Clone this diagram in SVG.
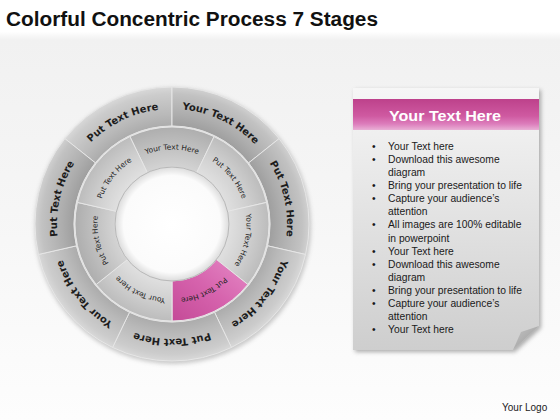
<svg xmlns="http://www.w3.org/2000/svg" width="560" height="420" viewBox="0 0 560 420">
<defs>
<style>
.ot{font-family:"DejaVu Sans",Verdana,sans-serif;font-size:10px;font-weight:bold;fill:#1c1c1c}
.it{font-family:"DejaVu Sans",Verdana,sans-serif;font-size:7.4px;fill:#222}
.seg{stroke:#e6e6e6;stroke-width:1}
.bl{font-family:"Liberation Sans",Arial,sans-serif;font-size:10.3px;fill:#1a1a1a}
</style>
<linearGradient id="gBg" x1="0" y1="0" x2="0" y2="1">
<stop offset="0" stop-color="#ffffff"/><stop offset="0.075" stop-color="#ffffff"/><stop offset="0.095" stop-color="#f1f1f1"/><stop offset="0.5" stop-color="#f6f6f6"/><stop offset="1" stop-color="#fdfdfd"/>
</linearGradient>
<radialGradient id="gO1" gradientUnits="userSpaceOnUse" cx="172" cy="224" r="137">
<stop offset="0.7" stop-color="#9c9c9c"/><stop offset="0.8" stop-color="#adadad"/><stop offset="0.95" stop-color="#c2c2c2"/><stop offset="1" stop-color="#d0d0d0"/>
</radialGradient>
<radialGradient id="gO2" gradientUnits="userSpaceOnUse" cx="172" cy="224" r="137">
<stop offset="0.7" stop-color="#a9a9a9"/><stop offset="0.8" stop-color="#b9b9b9"/><stop offset="0.95" stop-color="#cccccc"/><stop offset="1" stop-color="#d8d8d8"/>
</radialGradient>
<radialGradient id="gI1" gradientUnits="userSpaceOnUse" cx="172" cy="224" r="97">
<stop offset="0.58" stop-color="#d4d4d4"/><stop offset="0.8" stop-color="#c0c0c0"/><stop offset="1" stop-color="#aeaeae"/>
</radialGradient>
<radialGradient id="gI2" gradientUnits="userSpaceOnUse" cx="172" cy="224" r="97">
<stop offset="0.58" stop-color="#e0e0e0"/><stop offset="0.8" stop-color="#cfcfcf"/><stop offset="1" stop-color="#bcbcbc"/>
</radialGradient>
<linearGradient id="gP" x1="0" y1="1" x2="1" y2="0">
<stop offset="0" stop-color="#c44a97"/><stop offset="0.5" stop-color="#d663ad"/><stop offset="1" stop-color="#e58ac6"/>
</linearGradient>
<radialGradient id="gH" cx="0.5" cy="0.5" r="0.5">
<stop offset="0" stop-color="#ffffff"/><stop offset="0.85" stop-color="#fbfbfb"/><stop offset="1" stop-color="#dcdcdc"/>
</radialGradient>
<linearGradient id="gPanel" x1="0" y1="0" x2="0" y2="1">
<stop offset="0" stop-color="#f6f6f6"/><stop offset="1" stop-color="#cecece"/>
</linearGradient>
<linearGradient id="gHd" x1="0" y1="0" x2="0" y2="1">
<stop offset="0" stop-color="#bd418b"/><stop offset="0.55" stop-color="#cf5aa1"/><stop offset="0.8" stop-color="#dc7cbb"/><stop offset="1" stop-color="#e9b0d6"/>
</linearGradient>
<linearGradient id="gF" x1="0" y1="0" x2="1" y2="1">
<stop offset="0" stop-color="#c4c4c4"/><stop offset="1" stop-color="#989898"/>
</linearGradient>
<filter id="blur" x="-20%" y="-20%" width="140%" height="140%"><feGaussianBlur stdDeviation="2"/></filter>
<path id="pA" d="M82.09,152.30 A115,115 0 0 1 172,109"/>
<path id="pB" d="M172,109 A115,115 0 0 1 261.91,152.30"/>
<path id="pC" d="M261.91,152.30 A115,115 0 0 1 284.11,249.59"/>
<path id="pD" d="M284.11,249.59 A115,115 0 0 1 221.90,327.62"/>
<path id="pE" d="M221.90,327.62 A115,115 0 0 1 122.10,327.62"/>
<path id="pF" d="M122.10,327.62 A115,115 0 0 1 59.89,249.59"/>
<path id="pG" d="M59.89,249.59 A115,115 0 0 1 82.09,152.30"/>
<path id="q1" d="M139.67,156.88 A74.5,74.5 0 0 1 204.33,156.88"/>
<path id="q2" d="M204.33,156.88 A74.5,74.5 0 0 1 244.63,207.42"/>
<path id="q3" d="M244.63,207.42 A74.5,74.5 0 0 1 230.24,270.45"/>
<path id="q4" d="M230.24,270.45 A74.5,74.5 0 0 1 172,298.5"/>
<path id="q5" d="M172,298.5 A74.5,74.5 0 0 1 113.76,270.45"/>
<path id="q6" d="M113.76,270.45 A74.5,74.5 0 0 1 99.37,207.42"/>
<path id="q7" d="M99.37,207.42 A74.5,74.5 0 0 1 139.67,156.88"/>
</defs>

<rect width="560" height="420" fill="url(#gBg)"/>
<text x="6" y="26" font-family="Liberation Sans, Arial, sans-serif" font-size="20" font-weight="bold" fill="#111" textLength="372" lengthAdjust="spacingAndGlyphs">Colorful Concentric Process 7 Stages</text>

<circle cx="173" cy="226" r="138" fill="#8a8a8a" opacity="0.45" filter="url(#blur)"/>

<g id="outer-a"><path class="seg" fill="url(#gO2)" d="M64.89,138.58 A137,137 0 0 1 172,87 L172,126 A98,98 0 0 0 95.38,162.90 Z"/><text class="ot"><textPath href="#pA" startOffset="50%" text-anchor="middle">Put Text Here</textPath></text></g>
<g id="outer-b"><path class="seg" fill="url(#gO1)" d="M172,87 A137,137 0 0 1 279.11,138.58 L248.62,162.90 A98,98 0 0 0 172,126 Z"/><text class="ot"><textPath href="#pB" startOffset="50%" text-anchor="middle">Your Text Here</textPath></text></g>
<g id="outer-c"><path class="seg" fill="url(#gO1)" d="M279.11,138.58 A137,137 0 0 1 305.56,254.48 L267.54,245.81 A98,98 0 0 0 248.62,162.90 Z"/><text class="ot"><textPath href="#pC" startOffset="50%" text-anchor="middle">Put Text Here</textPath></text></g>
<g id="outer-d"><path class="seg" fill="url(#gO2)" d="M305.56,254.48 A137,137 0 0 1 231.44,347.44 L214.52,312.30 A98,98 0 0 0 267.54,245.81 Z"/><text class="ot"><textPath href="#pD" startOffset="50%" text-anchor="middle">Your Text Here</textPath></text></g>
<g id="outer-e"><path class="seg" fill="url(#gO2)" d="M231.44,347.44 A137,137 0 0 1 112.56,347.44 L129.48,312.30 A98,98 0 0 0 214.52,312.30 Z"/><text class="ot"><textPath href="#pE" startOffset="50%" text-anchor="middle">Put Text Here</textPath></text></g>
<g id="outer-f"><path class="seg" fill="url(#gO2)" d="M112.56,347.44 A137,137 0 0 1 38.44,254.48 L76.46,245.81 A98,98 0 0 0 129.48,312.30 Z"/><text class="ot"><textPath href="#pF" startOffset="50%" text-anchor="middle">Your Text Here</textPath></text></g>
<g id="outer-g"><path class="seg" fill="url(#gO1)" d="M38.44,254.48 A137,137 0 0 1 64.89,138.58 L95.38,162.90 A98,98 0 0 0 76.46,245.81 Z"/><text class="ot"><textPath href="#pG" startOffset="50%" text-anchor="middle">Put Text Here</textPath></text></g>

<circle cx="172" cy="224" r="97.5" fill="none" stroke="#e2e2e2" stroke-width="1.5"/>

<g id="inner-1"><path class="seg" fill="url(#gI1)" d="M129.91,136.60 A97,97 0 0 1 214.09,136.60 L196.73,172.64 A57,57 0 0 0 147.27,172.64 Z"/><text class="it"><textPath href="#q1" startOffset="50%" text-anchor="middle">Your Text Here</textPath></text></g>
<g id="inner-2"><path class="seg" fill="url(#gI2)" d="M214.09,136.60 A97,97 0 0 1 266.57,202.42 L227.57,211.32 A57,57 0 0 0 196.73,172.64 Z"/><text class="it"><textPath href="#q2" startOffset="50%" text-anchor="middle">Put Text Here</textPath></text></g>
<g id="inner-3"><path class="seg" fill="url(#gI2)" d="M266.57,202.42 A97,97 0 0 1 247.83,284.48 L216.56,259.54 A57,57 0 0 0 227.57,211.32 Z"/><text class="it"><textPath href="#q3" startOffset="50%" text-anchor="middle">Your Text Here</textPath></text></g>
<g id="inner-4"><path class="seg" fill="url(#gP)" d="M247.83,284.48 A97,97 0 0 1 172,321 L172,281 A57,57 0 0 0 216.56,259.54 Z"/><text class="it"><textPath href="#q4" startOffset="50%" text-anchor="middle">Put Text Here</textPath></text></g>
<g id="inner-5"><path class="seg" fill="url(#gI2)" d="M172,321 A97,97 0 0 1 96.17,284.48 L127.44,259.54 A57,57 0 0 0 172,281 Z"/><text class="it"><textPath href="#q5" startOffset="50%" text-anchor="middle">Your Text Here</textPath></text></g>
<g id="inner-6"><path class="seg" fill="url(#gI1)" d="M96.17,284.48 A97,97 0 0 1 77.43,202.42 L116.43,211.32 A57,57 0 0 0 127.44,259.54 Z"/><text class="it"><textPath href="#q6" startOffset="50%" text-anchor="middle">Put Text Here</textPath></text></g>
<g id="inner-7"><path class="seg" fill="url(#gI2)" d="M77.43,202.42 A97,97 0 0 1 129.91,136.60 L147.27,172.64 A57,57 0 0 0 116.43,211.32 Z"/><text class="it"><textPath href="#q7" startOffset="50%" text-anchor="middle">Put Text Here</textPath></text></g>

<circle cx="172" cy="224" r="57" fill="url(#gH)" stroke="#b8b8b8" stroke-width="1"/>

<g id="connectors"/>

<g id="panel">
<path d="M355,90 L541,90 L541,328 L515,352 L355,352 Z" fill="#6a6a6a" opacity="0.55" filter="url(#blur)"/>
<path d="M353,88 L539,88 L539,326 L513,350 L353,350 Z" fill="url(#gPanel)"/>
<path d="M539,326 L521,332 L513,350 Z" fill="url(#gF)"/>
<rect x="353" y="99" width="186" height="31" fill="url(#gHd)"/>
<text x="445" y="121" text-anchor="middle" font-family="Liberation Sans, Arial, sans-serif" font-size="15.5" font-weight="bold" fill="#ffffff" textLength="112" lengthAdjust="spacingAndGlyphs">Your Text Here</text>
<g class="bl">
<text x="372" y="150">•</text><text x="388" y="150">Your Text here</text>
<text x="372" y="163.1">•</text><text x="388" y="163.1">Download this awesome</text>
<text x="388" y="176.1">diagram</text>
<text x="372" y="189.2">•</text><text x="388" y="189.2">Bring your presentation to life</text>
<text x="372" y="202.3">•</text><text x="388" y="202.3">Capture your audience’s</text>
<text x="388" y="215.4">attention</text>
<text x="372" y="228.4">•</text><text x="388" y="228.4">All images are 100% editable</text>
<text x="388" y="241.5">in powerpoint</text>
<text x="372" y="254.6">•</text><text x="388" y="254.6">Your Text here</text>
<text x="372" y="267.6">•</text><text x="388" y="267.6">Download this awesome</text>
<text x="388" y="280.7">diagram</text>
<text x="372" y="293.8">•</text><text x="388" y="293.8">Bring your presentation to life</text>
<text x="372" y="306.8">•</text><text x="388" y="306.8">Capture your audience’s</text>
<text x="388" y="319.9">attention</text>
<text x="372" y="333">•</text><text x="388" y="333">Your Text here</text>
</g>
</g>

<text x="502" y="411" font-family="Liberation Sans, Arial, sans-serif" font-size="10" fill="#222">Your Logo</text>
</svg>
